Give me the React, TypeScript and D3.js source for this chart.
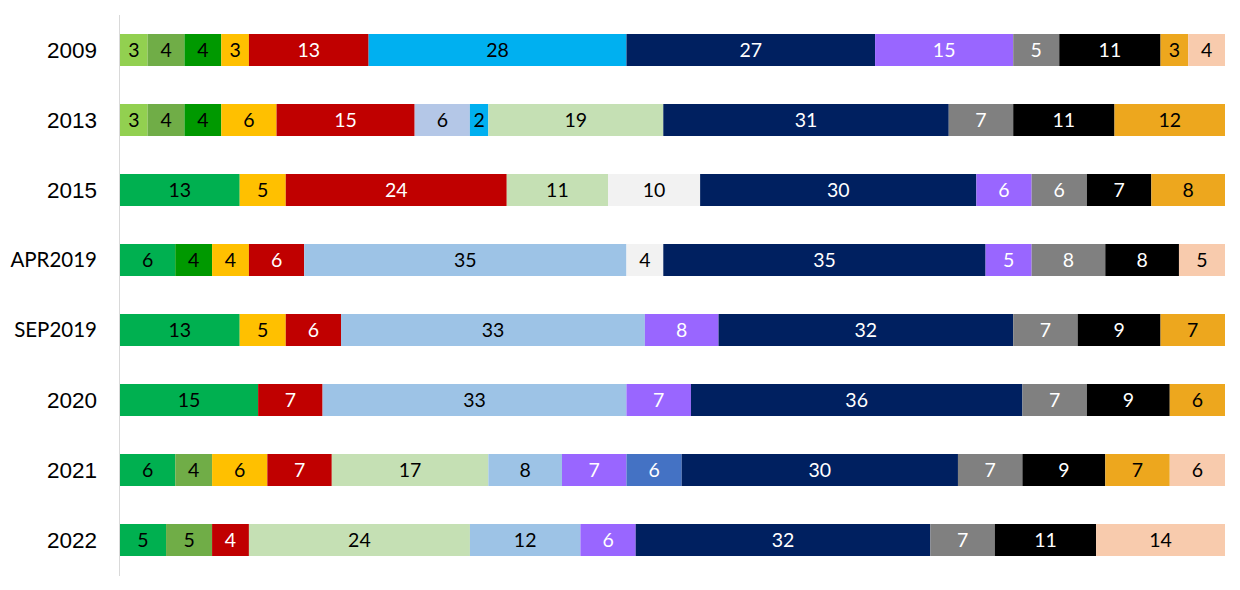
import React, { useEffect, useRef } from "react";
import * as d3 from "d3";

const years = ["2009", "2013", "2015", "APR2019", "SEP2019", "2020", "2021", "2022"];

const parties2009 = ["Balad", "Ra'am", "Hadash", "Meretz", "Labor", "Kadima", "Likud", "Yisrael Beiteinu", "UTJ", "Shas", "Jewish Home", "National Union"];
const seats2009 = [3, 4, 4, 3, 13, 28, 27, 15, 5, 11, 3, 4];

const parties2013 = ["Balad", "Ra'am", "Hadash", "Meretz", "Labor", "Hatnuah", "Kadima", "Yesh Atid", "Likud", "UTJ", "Shas", "Jewish Home"];
const seats2013 = [3, 4, 4, 6, 15, 6, 2, 19, 31, 7, 11, 12];

const parties2015 = ["Joint List", "Meretz", "Zionist Union", "Yesh Atid", "Kulanu", "Likud", "Yisrael Beiteinu", "UTJ", "Shas", "Jewish Home"];
const seats2015 = [13, 5, 24, 11, 10, 30, 6, 6, 7, 8];

const partiesApr2019 = ["Hadash-Ta'al", "Ra'am-Balad", "Meretz", "Labor", "Blue and White", "Kulanu", "Likud", "Yisrael Beiteinu", "UTJ", "Shas", "URWP"];
const seatsApr2019 = [6, 4, 4, 6, 35, 4, 35, 5, 8, 8, 5];

const partiesSep2019 = ["Joint List", "Democratic Union", "Labor-Gesher", "Blue and White", "Yisrael Beiteinu", "Likud", "UTJ", "Shas", "Yamina"];
const seatsSep2019 = [13, 5, 6, 33, 8, 32, 7, 9, 7];

const parties2020 = ["Joint List", "Labor-Gesher-Meretz", "Blue and White", "Yisrael Beiteinu", "Likud", "UTJ", "Shas", "Yamina"];
const seats2020 = [15, 7, 33, 7, 36, 7, 9, 6];

const parties2021 = ["Joint List", "Ra'am", "Meretz", "Labor", "Yesh Atid", "Blue and White", "Yisrael Beiteinu", "New Hope", "Likud", "UTJ", "Shas", "Yamina", "Religious Zionism"];
const seats2021 = [6, 4, 6, 7, 17, 8, 7, 6, 30, 7, 9, 7, 6];

const parties2022 = ["Hadash-Ta'al", "Ra'am", "Labor", "Yesh Atid", "National Unity", "Yisrael Beiteinu", "Likud", "UTJ", "Shas", "Religious Zionism"];
const seats2022 = [5, 5, 4, 24, 12, 6, 32, 7, 11, 14];

const rowParties = [parties2009, parties2013, parties2015, partiesApr2019, partiesSep2019, parties2020, parties2021, parties2022];
const rowSeats = [seats2009, seats2013, seats2015, seatsApr2019, seatsSep2019, seats2020, seats2021, seats2022];
const totalSeats = 120;

const partyColor: Record<string, string> = {
  "Balad": "#92D050",
  "Ra'am": "#70AD47",
  "Hadash": "#009900",
  "Ra'am-Balad": "#009900",
  "Joint List": "#00B050",
  "Hadash-Ta'al": "#00B050",
  "Meretz": "#FFC000",
  "Democratic Union": "#FFC000",
  "Labor": "#C00000",
  "Zionist Union": "#C00000",
  "Labor-Gesher": "#C00000",
  "Labor-Gesher-Meretz": "#C00000",
  "Hatnuah": "#B4C7E7",
  "Kadima": "#00B0F0",
  "Yesh Atid": "#C5E0B4",
  "Blue and White": "#9DC3E6",
  "National Unity": "#9DC3E6",
  "Kulanu": "#F2F2F2",
  "Yisrael Beiteinu": "#9966FF",
  "New Hope": "#4472C4",
  "Likud": "#002060",
  "UTJ": "#808080",
  "Shas": "#000000",
  "Jewish Home": "#EDA71E",
  "Yamina": "#EDA71E",
  "National Union": "#F8CBAD",
  "URWP": "#F8CBAD",
  "Religious Zionism": "#F8CBAD",
};

const whiteText = new Set(["#C00000", "#9966FF", "#4472C4", "#002060", "#808080", "#000000"]);
const calibriLikeYears = new Set(["APR2019", "SEP2019"]);

export default function App() {
  const ref = useRef<SVGSVGElement>(null);

  useEffect(() => {
    const svg = d3.select(ref.current);
    svg.selectAll("*").remove();

    const x = d3.scaleLinear().domain([0, totalSeats]).range([120, 1225]);
    const y = d3
      .scaleBand<string>()
      .domain(years)
      .range([15, 575])
      .paddingInner(38 / 70)
      .paddingOuter(19 / 70);

    const rows = years.map((year, i) => {
      let acc = 0;
      const segs = rowSeats[i].map((v, j) => {
        const s = { party: rowParties[i][j], value: v, x0: acc, x1: acc + v };
        acc += v;
        return s;
      });
      return { year, segs };
    });

    const g = svg.append("g");

    const rowG = g
      .selectAll("g.row")
      .data(rows)
      .join("g")
      .attr("class", "row")
      .attr("transform", (d) => `translate(0,${y(d.year)})`);

    rowG
      .selectAll("rect")
      .data((d) => d.segs)
      .join("rect")
      .attr("x", (d) => x(d.x0))
      .attr("width", (d) => x(d.x1) - x(d.x0))
      .attr("y", 0)
      .attr("height", y.bandwidth())
      .attr("fill", (d) => partyColor[d.party]);

    rowG
      .selectAll("text")
      .data((d) => d.segs)
      .join("text")
      .attr("x", (d) => (x(d.x0) + x(d.x1)) / 2)
      .attr("y", y.bandwidth() / 2)
      .attr("dy", "0.36em")
      .attr("text-anchor", "middle")
      .attr("font-family", "Lato, Carlito, sans-serif")
      .attr("font-size", 19.5)
      .attr("fill", (d) => (whiteText.has(partyColor[d.party]) ? "#FFFFFF" : "#000000"))
      .text((d) => d.value);

    // category axis line
    g.append("line")
      .attr("x1", 119.5)
      .attr("x2", 119.5)
      .attr("y1", 15)
      .attr("y2", 576)
      .attr("stroke", "#D9D9D9")
      .attr("stroke-width", 1);

    // category labels
    g.selectAll("text.year")
      .data(years)
      .join("text")
      .attr("class", "year")
      .attr("x", 97)
      .attr("y", (d) => (y(d) as number) + y.bandwidth() / 2)
      .attr("dy", "0.36em")
      .attr("text-anchor", "end")
      .attr("font-family", (d) =>
        calibriLikeYears.has(d) ? "Lato, Carlito, sans-serif" : "'Liberation Sans', Arial, sans-serif"
      )
      .attr("font-size", (d) => (calibriLikeYears.has(d) ? 20.5 : 22.5))
      .attr("fill", "#000000")
      .text((d) => d);
  }, []);

  return (
    <svg
      ref={ref}
      width={1240}
      height={590}
      style={{ position: "absolute", left: 0, top: 0, background: "#FFFFFF" }}
    />
  );
}
